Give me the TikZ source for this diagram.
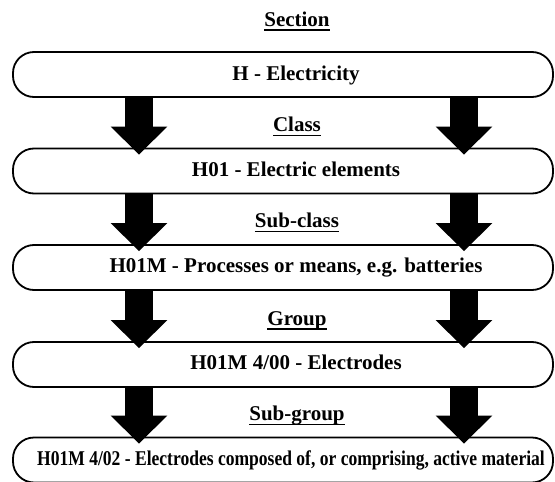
\documentclass[tikz,border=0pt]{standalone}
\usepackage{fontspec}
\setmainfont{Liberation Serif}
\usetikzlibrary{arrows.meta}
\newcommand{\ulabeltext}[1]{\setbox0\hbox{#1}\rlap{\vrule height -3pt depth 4.6pt width \wd0}\box0}
\begin{document}
\begin{tikzpicture}[x=1pt,y=1pt,
  levelbox/.style={draw=black, line width=1.8pt, rounded corners=21pt, fill=white,
    minimum width=540pt, minimum height=45pt, inner sep=0pt},
  boxtext/.style={inner sep=0pt, anchor=base, font=\fontsize{21}{24}\selectfont\bfseries},
  levellabel/.style={inner sep=0pt, anchor=base, font=\fontsize{21}{24}\selectfont\bfseries},
  bigarrow/.style={line width=28pt, -{Triangle[width=55pt,length=28pt]}}
]
\useasboundingbox (0,0) rectangle (555,-482);
\node[levelbox] (b1) at (283,-74.5) {};
\node[levelbox] (b2) at (283,-171) {};
\node[levelbox] (b3) at (283,-267.5) {};
\node[levelbox] (b4) at (283,-364.5) {};
\node[levelbox] (b5) at (283,-460) {};

\node[boxtext] (t1) at ([xshift=13pt,yshift=-5.5pt]b1.center) {H - Electricity};
\node[boxtext] (t2) at ([xshift=13pt,yshift=-5pt]b2.center) {H01 - Electric elements};
\node[boxtext] (t3) at ([xshift=13pt,yshift=-5pt]b3.center) {H01M - Processes or means, e.g. batteries};
\node[boxtext] (t4) at ([xshift=13pt,yshift=-5pt]b4.center) {H01M 4/00 - Electrodes};
\node[boxtext] (t5) at ([xshift=8pt,yshift=-5pt]b5.center) {\scalebox{0.835}[1]{H01M 4/02 - Electrodes composed of, or comprising, active material}};

\node[levellabel] (l0) at ([xshift=14pt,yshift=25pt]b1.north) {\ulabeltext{Section}};
\node[levellabel] (l1) at ([xshift=14pt,yshift=16pt]b2.north) {\ulabeltext{Class}};
\node[levellabel] (l2) at ([xshift=14pt,yshift=16.5pt]b3.north) {\ulabeltext{Sub-class}};
\node[levellabel] (l3) at ([xshift=14pt,yshift=16pt]b4.north) {\ulabeltext{Group}};
\node[levellabel] (l4) at ([xshift=14pt,yshift=16pt]b5.north) {\ulabeltext{Sub-group}};

\foreach \a/\b in {b1/b2, b2/b3, b3/b4, b4/b5}{
  \draw[bigarrow] ([xshift=-144pt]\a.south) -- ([xshift=-144pt,yshift=-7pt]\b.north);
  \draw[bigarrow] ([xshift=181pt]\a.south) -- ([xshift=181pt,yshift=-7pt]\b.north);
}
\end{tikzpicture}
\end{document}
